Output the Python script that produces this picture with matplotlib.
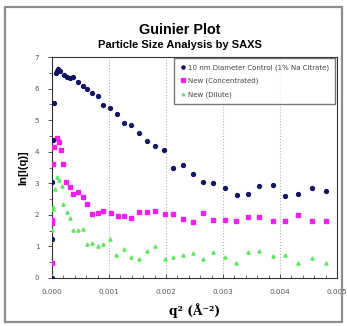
import matplotlib
matplotlib.use("Agg")
import matplotlib.pyplot as plt
from matplotlib.patches import Rectangle
from matplotlib.ticker import MultipleLocator

# ---- data ----
control_q2 = [0.0, 0.000003, 0.000008, 0.000015, 0.00004, 0.00007, 0.00009, 0.00011, 0.00014,
              0.00021, 0.00027, 0.00032, 0.00036, 0.00046, 0.00054, 0.00062, 0.00071, 0.00081,
              0.00090, 0.00102, 0.00114, 0.00126, 0.00138, 0.00153, 0.00166, 0.00181, 0.00197,
              0.00213, 0.00230, 0.00247, 0.00265, 0.00283, 0.00304, 0.00324, 0.00344, 0.00364,
              0.00387, 0.00409, 0.00432, 0.00456, 0.00480]
control_lnI = [0.0, 1.25, 3.03, 4.36, 5.55, 6.49, 6.56, 6.61, 6.55,
               6.43, 6.38, 6.35, 6.36, 6.20, 6.08, 5.98, 5.87, 5.76,
               5.48, 5.40, 5.19, 4.91, 4.86, 4.58, 4.34, 4.17, 4.07,
               3.49, 3.57, 3.30, 3.04, 3.02, 2.86, 2.63, 2.67, 2.90,
               2.93, 2.61, 2.67, 2.86, 2.75]

conc_q2 = [0.0, 0.000004, 0.000008, 0.00002, 0.00004, 0.00008, 0.00013, 0.00016, 0.00020,
           0.00025, 0.00032, 0.00037, 0.00046, 0.00054, 0.00062, 0.00071, 0.00081, 0.00090,
           0.00103, 0.00115, 0.00126, 0.00138, 0.00153, 0.00166, 0.00181, 0.00198, 0.00213,
           0.00229, 0.00248, 0.00265, 0.00283, 0.00304, 0.00323, 0.00343, 0.00364, 0.00387,
           0.00409, 0.00432, 0.00456, 0.00480]
conc_lnI = [0.49, 1.75, 1.85, 3.60, 4.15, 4.42, 4.31, 4.07, 3.60,
            3.03, 2.88, 2.66, 2.72, 2.58, 2.35, 2.03, 2.05, 2.11,
            2.05, 1.97, 1.95, 1.90, 2.08, 2.08, 2.13, 2.03, 2.03,
            1.86, 1.76, 2.05, 1.85, 1.85, 1.82, 1.92, 1.94, 1.79,
            1.82, 2.01, 1.82, 1.82]

dilute_q2 = [0.0, 0.000002, 0.000005, 0.00001, 0.00002, 0.00005, 0.00008, 0.00013, 0.00017,
             0.00020, 0.00026, 0.00032, 0.00037, 0.00046, 0.00054, 0.00062, 0.00071, 0.00081,
             0.00090, 0.00102, 0.00113, 0.00126, 0.00138, 0.00153, 0.00166, 0.00181, 0.00198,
             0.00213, 0.00230, 0.00247, 0.00265, 0.00283, 0.00304, 0.00323, 0.00343, 0.00364,
             0.00387, 0.00409, 0.00432, 0.00456, 0.00480]
dilute_lnI = [0.06, 1.20, 1.52, 2.20, 2.26, 2.82, 3.19, 3.09, 2.90,
              2.35, 2.08, 1.90, 1.52, 1.52, 1.55, 1.09, 1.10, 1.02,
              1.09, 1.23, 0.73, 0.91, 0.65, 0.60, 0.84, 1.02, 0.61,
              0.68, 0.73, 0.79, 0.60, 0.81, 0.67, 0.47, 0.83, 0.86,
              0.70, 0.73, 0.49, 0.63, 0.47]

series_labels = ["10 nm Diameter Control (1% Na Citrate)", "New (Concentrated)", "New (Dilute)"]
x_ticks = [0.000, 0.001, 0.002, 0.003, 0.004, 0.005]
y_ticks = [0, 1, 2, 3, 4, 5, 6, 7]

W, H = 347, 326
fig = plt.figure(figsize=(W / 100, H / 100), dpi=100)
fig.patch.set_facecolor("white")

# outer chart border
fig.add_artist(Rectangle((5 / W, 1 - 322 / H), 337 / W, 315 / H, transform=fig.transFigure,
                         fill=False, edgecolor="#8c8c8c", linewidth=1.6))

ax = fig.add_axes([52 / W, 1 - 278 / H, 285 / W, 221 / H])
ax.plot(control_q2, control_lnI, linestyle="none", marker="o", ms=2.8, color="#141464",
        mec="#141464", label=series_labels[0], zorder=4)
ax.plot(conc_q2, conc_lnI, linestyle="none", marker="s", ms=3.0, color="#f020f0",
        mec="#f020f0", label=series_labels[1], zorder=3)
ax.plot(dilute_q2, dilute_lnI, linestyle="none", marker="^", ms=2.3, color="#5ee85e",
        mec="#5ee85e", label=series_labels[2], zorder=3)

ax.set_xlim(0, 0.005)
ax.set_ylim(0, 7)
ax.set_xticks(x_ticks)
ax.set_xticklabels([f"{v:.3f}" for v in x_ticks])
ax.set_yticks(y_ticks)
ax.set_yticklabels([str(v) for v in y_ticks])
ax.xaxis.set_minor_locator(MultipleLocator(0.0002))
ax.yaxis.set_minor_locator(MultipleLocator(0.5))
ax.tick_params(axis="both", which="major", labelsize=5.2, labelcolor="#555555", color="#333333",
               length=3, width=0.6)
ax.tick_params(axis="x", which="both", direction="in")
ax.tick_params(axis="y", which="both", direction="out")
ax.tick_params(axis="both", which="minor", length=2, width=0.5, color="#333333")
ax.tick_params(axis="x", pad=8)
ax.tick_params(axis="y", pad=6)
for s in ax.spines.values():
    s.set_color("#333333")
    s.set_linewidth(0.8)

ax.grid(axis="x", which="major", linestyle=":", color="#b0b0b0", linewidth=0.8)
ax.set_axisbelow(True)

ax.set_ylabel("ln[I(q)]", fontsize=8, fontweight="bold", family="Liberation Sans", labelpad=5)
ax.set_xlabel("q² (Å⁻²)", fontsize=8.8, fontweight="bold", family="DejaVu Serif", labelpad=6)

fig.text(180 / W, 1 - 30 / H, "Guinier Plot", ha="center", va="center", fontsize=10.4,
         fontweight="bold", family="Liberation Sans")
fig.text(180 / W, 1 - 45 / H, "Particle Size Analysis by SAXS", ha="center", va="center",
         fontsize=8, fontweight="bold", family="Liberation Sans")

leg = ax.legend(loc="upper right", bbox_to_anchor=(0.993, 0.995), fontsize=5.0, frameon=True,
                fancybox=False, borderpad=0.9, labelspacing=1.0, handletextpad=0.2,
                handlelength=0.8, borderaxespad=0.0, markerscale=0.8)
leg.get_frame().set_edgecolor("#555555")
leg.get_frame().set_linewidth(1.0)
for t in leg.get_texts():
    t.set_color("#444444")

fig.savefig("out.png", dpi=100)
